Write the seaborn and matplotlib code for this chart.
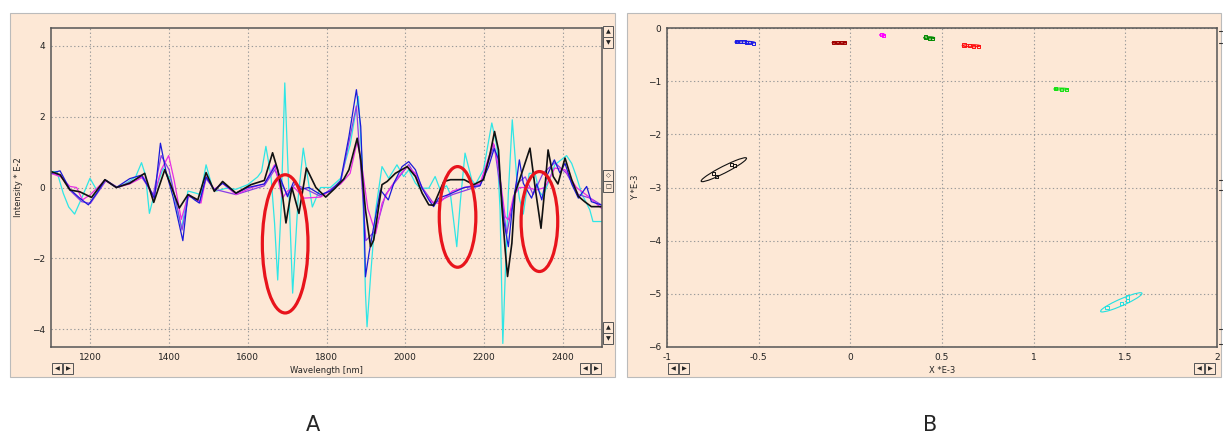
import matplotlib
matplotlib.use('Agg')
import matplotlib.pyplot as plt
import seaborn as sns
import pandas as pd
from matplotlib.patches import Ellipse, Rectangle

# ---- panel A: spectra (wavelength nm, intensity * E-2) ----
wl_cyan = [1100, 1115, 1131, 1145, 1160, 1178, 1199, 1216, 1240, 1258, 1272, 1295, 1315, 1330, 1340,
           1350, 1362, 1385, 1405, 1420, 1432, 1448, 1465, 1480, 1494, 1510, 1520, 1545, 1570, 1600,
           1625, 1635, 1646, 1659, 1668, 1676, 1685, 1694, 1704, 1714, 1728, 1741, 1752, 1764, 1785,
           1810, 1836, 1860, 1881, 1890, 1899, 1903, 1912, 1925, 1941, 1958, 1979, 1996, 2009, 2026,
           2038, 2060, 2076, 2089, 2105, 2115, 2131, 2140, 2152, 2169, 2178, 2199, 2220, 2233, 2241,
           2248, 2254, 2262, 2272, 2283, 2290, 2300, 2315, 2330, 2340, 2350, 2363, 2380, 2410, 2423,
           2435, 2448, 2469, 2477, 2500]
int_cyan = [0.45, 0.45, -0.16, -0.55, -0.75, -0.3, 0.26, -0.07, 0.2, 0.05, 0.0, 0.15, 0.3, 0.7, 0.35,
            -0.73, -0.2, 0.55, 0.2, -0.6, -1.15, -0.1, -0.15, -0.2, 0.64, 0.0, -0.1, -0.02, -0.05, 0.08,
            0.3, 0.45, 1.16, 0.31, -1.0, -2.61, -0.5, 2.95, 0.0, -2.98, -0.3, 1.11, 0.3, -0.55, 0.0,
            0.0, 0.26, 1.2, 2.57, 0.8, -2.98, -3.93, -2.5, -0.63, 0.59, 0.26, 0.64, 0.31, 0.5, 0.12,
            -0.02, -0.02, 0.31, -0.07, 0.05, -0.2, -1.67, -0.4, 0.97, 0.22, 0.08, 0.5, 1.82, 1.16, -0.63,
            -4.4, -2.52, -0.16, 1.91, 0.31, -0.3, -0.75, 0.4, 0.4, -0.1, -0.25, 0.12, 0.64, 0.9, 0.68,
            0.31, -0.16, -0.63, -0.96, -0.96]

wl_black = [1100, 1123, 1148, 1173, 1203, 1237, 1266, 1300, 1338, 1361, 1389, 1405, 1426, 1448, 1473,
            1494, 1515, 1536, 1570, 1608, 1642, 1663, 1676, 1688, 1697, 1712, 1730, 1749, 1773, 1798,
            1819, 1844, 1857, 1878, 1887, 1899, 1912, 1920, 1941, 1954, 1975, 2005, 2026, 2043, 2060,
            2072, 2098, 2115, 2150, 2174, 2199, 2216, 2227, 2237, 2245, 2254, 2260, 2271, 2279, 2290,
            2317, 2330, 2345, 2355, 2363, 2376, 2388, 2406, 2423, 2440, 2456, 2473, 2500]
int_black = [0.45, 0.36, -0.07, -0.12, -0.28, 0.22, 0.0, 0.12, 0.4, -0.42, 0.5, 0.05, -0.58, -0.2, -0.35,
             0.42, -0.11, 0.17, -0.16, 0.08, 0.2, 0.98, 0.5, -0.2, -1.0, 0.0, -0.73, 0.55, 0.0, -0.27,
             -0.05, 0.24, 0.5, 1.39, 0.78, -0.63, -1.67, -1.48, 0.08, 0.17, 0.4, 0.59, 0.31, -0.16, -0.49,
             -0.5, 0.17, 0.22, 0.22, 0.08, 0.22, 0.97, 1.58, 1.06, -0.44, -1.76, -2.51, -1.57, -0.16, 0.2,
             1.11, 0.0, -1.15, 0.0, 1.06, 0.31, 0.1, 0.83, 0.22, -0.25, -0.4, -0.54, -0.54]

wl_blue = [1100, 1123, 1148, 1173, 1195, 1220, 1237, 1266, 1300, 1330, 1351, 1363, 1378, 1393, 1410,
           1435, 1448, 1465, 1477, 1494, 1515, 1536, 1570, 1600, 1642, 1671, 1685, 1701, 1718, 1735,
           1755, 1785, 1810, 1836, 1857, 1876, 1887, 1895, 1899, 1908, 1920, 1937, 1957, 1971, 1992,
           2009, 2026, 2043, 2060, 2072, 2085, 2110, 2150, 2190, 2212, 2226, 2237, 2250, 2262, 2272,
           2283, 2290, 2300, 2321, 2334, 2347, 2359, 2379, 2393, 2406, 2423, 2440, 2461, 2473, 2500]
int_blue = [0.4, 0.47, -0.05, -0.3, -0.49, -0.1, 0.22, 0.0, 0.25, 0.35, -0.05, -0.3, 1.25, 0.41, -0.26,
            -1.5, -0.2, -0.35, -0.44, 0.3, -0.07, 0.12, -0.16, 0.0, 0.1, 0.64, 0.2, -0.26, 0.2, -0.05,
            0.0, -0.2, -0.1, 0.2, 1.44, 2.76, 1.72, -0.63, -2.52, -1.86, -1.1, -0.07, -0.35, 0.12, 0.59,
            0.73, 0.5, -0.02, -0.35, -0.54, -0.3, -0.2, 0.0, 0.05, 0.59, 1.1, 0.8, -0.91, -1.67, -0.6,
            0.2, 0.78, 0.12, -0.3, 0.1, -0.35, 0.31, 0.78, 0.41, 0.68, 0.1, -0.3, 0.03, -0.4, -0.5]

wl_magenta = [1100, 1125, 1148, 1165, 1180, 1200, 1237, 1266, 1300, 1335, 1360, 1380, 1399, 1413, 1431,
              1448, 1465, 1481, 1494, 1515, 1536, 1570, 1610, 1642, 1668, 1688, 1701, 1718, 1743, 1785,
              1836, 1860, 1878, 1890, 1905, 1925, 1941, 1957, 1975, 2005, 2026, 2043, 2065, 2085, 2120,
              2150, 2190, 2224, 2237, 2254, 2262, 2275, 2290, 2310, 2334, 2355, 2380, 2406, 2435, 2465,
              2500]
int_magenta = [0.4, 0.3, 0.03, 0.0, -0.35, -0.2, 0.2, 0.0, 0.1, 0.3, -0.3, 0.5, 0.9, 0.2, -0.9,
               -0.25, -0.3, -0.44, 0.3, -0.05, 0.12, -0.2, 0.0, 0.1, 0.64, -0.3, -0.1, 0.0, -0.3, -0.27,
               0.1, 0.4, 1.3, 0.6, -0.6, -1.3, -0.45, -0.1, 0.2, 0.6, 0.4, 0.0, -0.4, -0.45, -0.1,
               0.0, 0.1, 1.25, 0.6, -0.82, -0.91, -0.25, 0.0, 0.0, -0.07, 0.0, 0.55, 0.5, 0.0, -0.25,
               -0.6]

wl_violet = [1100, 1125, 1150, 1178, 1200, 1240, 1270, 1300, 1330, 1360, 1380, 1400, 1433, 1450, 1478,
             1494, 1515, 1570, 1642, 1668, 1700, 1720, 1785, 1836, 1876, 1900, 1925, 1950, 2009, 2043,
             2072, 2120, 2190, 2226, 2258, 2283, 2305, 2325, 2350, 2380, 2410, 2440, 2470, 2500]
int_violet = [0.4, 0.35, -0.1, -0.4, -0.45, 0.2, 0.0, 0.15, 0.3, -0.2, 0.9, 0.5, -1.2, -0.2, -0.4,
              0.25, -0.05, -0.2, 0.05, 0.5, -0.2, 0.1, -0.25, 0.15, 2.3, -1.5, -1.2, -0.2, 0.65, 0.0,
              -0.45, -0.2, 0.05, 1.2, -1.3, 0.1, 0.3, -0.2, 0.4, 0.7, 0.4, -0.2, -0.3, -0.5]

# red highlight ellipses: centre wl, centre value, width nm, height
ring_wl = [1695, 2133, 2341]
ring_val = [-1.59, -0.83, -0.96]
ring_w = [116, 93, 93]
ring_h = [3.9, 2.84, 2.82]

# ---- panel B: score plot (X *E-3, Y *E-3) ----
grp_names = ['blue', 'darkred', 'magenta', 'green', 'red', 'lime', 'black', 'cyan']
grp_x = [[-0.62, -0.60, -0.58, -0.565, -0.55, -0.53],
         [-0.09, -0.07, -0.05, -0.03],
         [0.17, 0.18],
         [0.41, 0.43, 0.45],
         [0.62, 0.65, 0.67, 0.70],
         [1.12, 1.15, 1.18],
         [-0.745, -0.73, -0.65, -0.63],
         [1.40, 1.48, 1.51, 1.51]]
grp_y = [[-0.25, -0.255, -0.26, -0.27, -0.27, -0.285],
         [-0.27, -0.28, -0.27, -0.28],
         [-0.12, -0.14],
         [-0.17, -0.19, -0.20],
         [-0.32, -0.33, -0.34, -0.34],
         [-1.13, -1.15, -1.16],
         [-2.73, -2.80, -2.56, -2.59],
         [-5.26, -5.19, -5.06, -5.13]]
# confidence ellipses: centre x, centre y, width, height, angle
ell_cx = [-0.575, -0.06, 0.175, 0.43, 0.66, 1.15, -0.69, 1.478]
ell_cy = [-0.268, -0.275, -0.13, -0.185, -0.333, -1.148, -2.665, -5.16]
ell_w = [0.11, 0.08, 0.03, 0.06, 0.1, 0.08, 0.51, 0.42]
ell_h = [0.04, 0.03, 0.04, 0.04, 0.04, 0.035, 0.07, 0.075]
ell_ang = [-5, 0, 0, -5, -3, -3, 61.9, 58.9]

spec_colors = {'cyan': '#2ee6e6', 'violet': '#8a3ce6', 'magenta': '#e62ee6',
               'blue': '#1a1ad9', 'black': '#111111'}
grp_colors = {'blue': '#1a1ae6', 'darkred': '#a00000', 'magenta': '#ff00ff', 'green': '#008a00',
              'red': '#ff1010', 'lime': '#10e010', 'black': '#111111', 'cyan': '#22e0e0'}

W, H = 1223, 434
BG = '#fde8d6'
sns.set_style('white')
plt.rcParams['font.family'] = ['DejaVu Sans']

fig = plt.figure(figsize=(W / 100, H / 100), dpi=100, facecolor='white')


def fx(x):
    return x / W


def fy(y):
    return 1 - y / H


def px_rect(x0, y0, x1, y1, **kw):
    fig.add_artist(Rectangle((fx(x0), fy(y1)), fx(x1) - fx(x0), fy(y0) - fy(y1),
                             transform=fig.transFigure, **kw))


def button(x0, y0, glyph):
    px_rect(x0, y0, x0 + 10, y0 + 11, facecolor=BG, edgecolor='#555555', lw=0.7, zorder=3)
    fig.text(fx(x0 + 5), fy(y0 + 5.5), glyph, ha='center', va='center', fontsize=4.5,
             color='#222222', zorder=4)


# window frames (behind the axes)
px_rect(10, 13, 615, 377, facecolor=BG, edgecolor='#bbbbbb', lw=0.8, zorder=-5)
px_rect(627, 13, 1221, 377, facecolor=BG, edgecolor='#bbbbbb', lw=0.8, zorder=-5)

axA = fig.add_axes([fx(51), fy(347), fx(602) - fx(51), fy(28) - fy(347)])
axB = fig.add_axes([fx(667), fy(347), fx(1217) - fx(667), fy(28) - fy(347)])

# spectra
spectra = [('cyan', wl_cyan, int_cyan), ('violet', wl_violet, int_violet),
           ('magenta', wl_magenta, int_magenta), ('blue', wl_blue, int_blue),
           ('black', wl_black, int_black)]
for name, wl, val in spectra:
    d = pd.DataFrame({'wl': wl, 'val': val})
    sns.lineplot(data=d, x='wl', y='val', ax=axA, color=spec_colors[name], sort=False,
                 estimator=None, lw=1.2 if name == 'black' else 0.9)

for cx, cy, w, h in zip(ring_wl, ring_val, ring_w, ring_h):
    axA.add_patch(Ellipse((cx, cy), w, h, fill=False, edgecolor='#e8141c', lw=2.3, zorder=5))

axA.set_xlim(1100, 2500)
axA.set_ylim(-4.5, 4.5)
axA.set_xticks([1200, 1400, 1600, 1800, 2000, 2200, 2400])
axA.set_yticks([-4, -2, 0, 2, 4])
axA.set_xlabel('Wavelength [nm]', fontsize=6, labelpad=3)
axA.set_ylabel('Intensity * E-2', fontsize=6, labelpad=7)

# score plot
for i, g in enumerate(grp_names):
    d = pd.DataFrame({'x': grp_x[i], 'y': grp_y[i]})
    sns.scatterplot(data=d, x='x', y='y', ax=axB, marker='s', s=5, facecolor='none',
                    edgecolor=grp_colors[g], linewidth=0.7)
    axB.add_patch(Ellipse((ell_cx[i], ell_cy[i]), ell_w[i], ell_h[i], angle=ell_ang[i],
                          fill=False, edgecolor=grp_colors[g], lw=0.8))

axB.set_xlim(-1, 2)
axB.set_ylim(-6, 0)
axB.set_xticks([-1, -0.5, 0, 0.5, 1, 1.5, 2])
axB.set_xticklabels(['-1', '-0.5', '0', '0.5', '1', '1.5', '2'])
axB.set_yticks([-6, -5, -4, -3, -2, -1, 0])
axB.set_xlabel('X *E-3', fontsize=6, labelpad=3)
axB.set_ylabel('Y *E-3', fontsize=6, labelpad=6)

for ax in (axA, axB):
    ax.set_facecolor(BG)
    ax.grid(True, color='#9a9a9a', ls=(0, (1.2, 2.2)), lw=0.8)
    ax.tick_params(labelsize=6.5, length=0, pad=4, colors='#222222')
    for s in ax.spines.values():
        s.set_color('#555555')
        s.set_linewidth(1.1)

# scroll buttons
for x0 in (52, 63, 580, 591):
    button(x0, 363, '◀' if x0 in (52, 580) else '▶')
for x0 in (668, 679, 1194, 1205):
    button(x0, 363, '◀' if x0 in (668, 1194) else '▶')
button(603, 26, '▲')
button(603, 37, '▼')
button(603, 170, '◇')
button(603, 181, '□')
button(603, 322, '▲')
button(603, 333, '▼')
for yy in (31, 43, 180, 190, 329, 344):
    fig.add_artist(plt.Line2D([fx(1219), fx(1222)], [fy(yy), fy(yy)], color='#333333', lw=0.8,
                              transform=fig.transFigure))

fig.text(fx(313), fy(425), 'A', ha='center', va='center', fontsize=15)
fig.text(fx(930), fy(425), 'B', ha='center', va='center', fontsize=15)

fig.savefig('out.png', dpi=100, facecolor='white')
